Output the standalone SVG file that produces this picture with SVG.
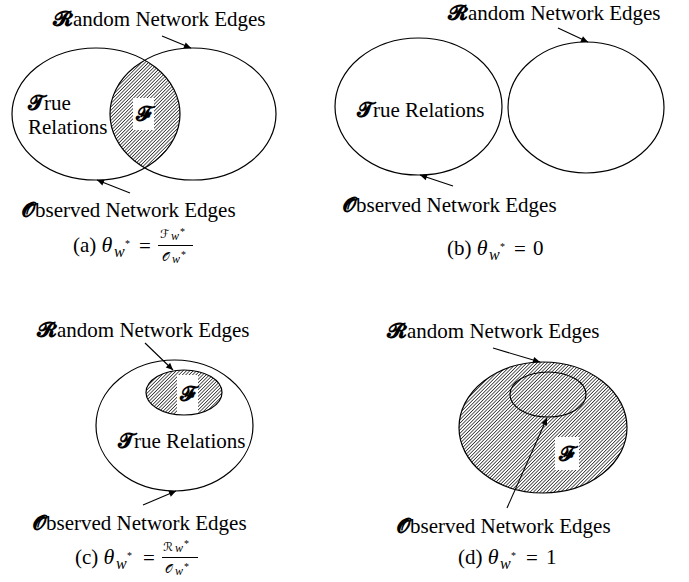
<svg xmlns="http://www.w3.org/2000/svg" width="689" height="582" viewBox="0 0 689 582">
<style>
.t{font-family:"Liberation Serif","DejaVu Serif","Noto Sans",serif;font-size:21px;fill:#000}
.m{font-family:"Liberation Serif","DejaVu Serif",serif;font-style:italic}
.s{font-family:"DejaVu Serif","Noto Sans","DejaVu Sans",serif;font-weight:bold}
.sc{font-family:"DejaVu Serif","DejaVu Sans","Noto Sans",serif}
.st{font-family:"Liberation Serif",serif;font-size:10px}
.e{fill:none;stroke:#000;stroke-width:1.2}
.a{fill:none;stroke:#000;stroke-width:1.1;marker-end:url(#ah)}
.h{fill:url(#hatch);stroke:none}
.wb{fill:#fff}
</style>
<defs>
<pattern id="hatch" patternUnits="userSpaceOnUse" width="2.4" height="10" patternTransform="rotate(45)">
<rect width="2.4" height="10" fill="#fff"/>
<rect width="0.8" height="10" fill="#333"/>
</pattern>
<marker id="ah" viewBox="0 0 10 10" refX="10" refY="5" markerWidth="8" markerHeight="7" orient="auto" markerUnits="userSpaceOnUse">
<path d="M0,0.5 L10,5 L0,9.5 z" fill="#000"/>
</marker>
<clipPath id="clipA"><ellipse cx="96" cy="114" rx="84" ry="66"/></clipPath>
<clipPath id="clipC"><ellipse cx="184" cy="392.5" rx="38" ry="22.5"/></clipPath>
</defs>

<g id="panel-a">
<g id="a-random">
<ellipse class="h" cx="193" cy="114" rx="83" ry="66" clip-path="url(#clipA)"/>
<rect class="wb" x="133" y="98" width="21" height="32"/>
<ellipse class="e" cx="193" cy="114" rx="83" ry="66"/>
<text class="t" x="53" y="26"><tspan class="s">𝓡</tspan>andom Network Edges</text>
</g>
<g id="a-observed">
<ellipse class="e" cx="96" cy="114" rx="84" ry="66"/>
<text class="t" x="22" y="217"><tspan class="s">𝓞</tspan>bserved Network Edges</text>
</g>
<g id="a-true">
<text class="t" x="28" y="110"><tspan class="s">𝓣</tspan>rue</text>
<text class="t" x="28" y="134">Relations</text>
</g>
<g id="a-F"><text class="t s" x="143.5" y="121" text-anchor="middle">𝓕</text></g>
<g id="a-caption">
<text class="t" x="73" y="252">(a) <tspan class="m" font-size="22">θ</tspan></text>
<text class="m" x="114" y="257" font-size="16">w</text>
<text class="st" x="125" y="247">*</text>
<text class="t" x="139" y="253" font-size="22">=</text>
<line x1="158" y1="245.5" x2="193" y2="245.5" stroke="#000" stroke-width="1"/>
<text class="sc" x="160" y="238" font-size="12">ℱ</text>
<text class="m" x="171" y="240" font-size="12">w</text>
<text class="st" x="180" y="235" font-size="8">*</text>
<text class="sc" x="162" y="261" font-size="12">𝒪</text>
<text class="m" x="172" y="263" font-size="12">w</text>
<text class="st" x="181" y="258" font-size="8">*</text>
</g>
</g>

<g id="panel-b">
<g id="b-true">
<ellipse class="e" cx="418.5" cy="106.5" rx="83.5" ry="68.5"/>
<text class="t" x="357" y="117"><tspan class="s">𝓣</tspan>rue Relations</text>
</g>
<g id="b-random">
<ellipse class="e" cx="586" cy="107.5" rx="78" ry="65.5"/>
<text class="t" x="448" y="20"><tspan class="s">𝓡</tspan>andom Network Edges</text>
</g>
<g id="b-observed">
<text class="t" x="343" y="212"><tspan class="s">𝓞</tspan>bserved Network Edges</text>
</g>
<g id="b-caption">
<text class="t" x="447" y="255">(b) <tspan class="m" font-size="22">θ</tspan></text>
<text class="m" x="489" y="260" font-size="16">w</text>
<text class="st" x="500" y="250">*</text>
<text class="t" x="514" y="256" font-size="22">=</text>
<text class="t" x="533" y="255" font-size="22">0</text>
</g>
</g>

<g id="panel-c">
<g id="c-observed">
<ellipse class="e" cx="174.5" cy="425.5" rx="78.5" ry="65.5"/>
<text class="t" x="33" y="530"><tspan class="s">𝓞</tspan>bserved Network Edges</text>
</g>
<g id="c-random">
<ellipse class="h" cx="184" cy="392.5" rx="38" ry="22.5"/>
<rect class="wb" x="177" y="375" width="21" height="41" clip-path="url(#clipC)"/>
<ellipse class="e" cx="184" cy="392.5" rx="38" ry="22.5"/>
<text class="t" x="37" y="337"><tspan class="s">𝓡</tspan>andom Network Edges</text>
</g>
<g id="c-F"><text class="t s" x="187.5" y="401" text-anchor="middle">𝓕</text></g>
<g id="c-true"><text class="t" x="118" y="448"><tspan class="s">𝓣</tspan>rue Relations</text></g>
<g id="c-caption">
<text class="t" x="75" y="564">(c) <tspan class="m" font-size="22">θ</tspan></text>
<text class="m" x="116" y="569" font-size="16">w</text>
<text class="st" x="127" y="559">*</text>
<text class="t" x="143" y="565" font-size="22">=</text>
<line x1="162" y1="557.5" x2="198" y2="557.5" stroke="#000" stroke-width="1"/>
<text class="sc" x="163" y="551" font-size="12">ℛ</text>
<text class="m" x="175" y="552" font-size="12">w</text>
<text class="st" x="184" y="547" font-size="8">*</text>
<text class="sc" x="165" y="573" font-size="12">𝒪</text>
<text class="m" x="175" y="575" font-size="12">w</text>
<text class="st" x="184" y="570" font-size="8">*</text>
</g>
</g>

<g id="panel-d">
<g id="d-random">
<ellipse class="h" cx="543" cy="427.5" rx="84" ry="65.5"/>
<ellipse class="e" cx="543" cy="427.5" rx="84" ry="65.5"/>
<text class="t" x="387" y="338"><tspan class="s">𝓡</tspan>andom Network Edges</text>
</g>
<g id="d-observed">
<ellipse class="e" cx="548" cy="394.5" rx="38" ry="22.5"/>
<text class="t" x="397" y="533"><tspan class="s">𝓞</tspan>bserved Network Edges</text>
</g>
<g id="d-F">
<rect class="wb" x="555" y="437" width="24" height="33"/>
<text class="t s" x="567" y="461" text-anchor="middle">𝓕</text>
</g>
<g id="d-caption">
<text class="t" x="458" y="564">(d) <tspan class="m" font-size="22">θ</tspan></text>
<text class="m" x="500" y="569" font-size="16">w</text>
<text class="st" x="511" y="559">*</text>
<text class="t" x="526" y="565" font-size="22">=</text>
<text class="t" x="546" y="564" font-size="22">1</text>
</g>
</g>

<g id="connectors">
<line class="a" x1="162" y1="36" x2="191" y2="48"/>
<line class="a" x1="130" y1="193" x2="97" y2="180"/>
<line class="a" x1="558" y1="28" x2="588" y2="42"/>
<line class="a" x1="453" y1="186" x2="420" y2="175"/>
<line class="a" x1="145" y1="343" x2="173" y2="370"/>
<line class="a" x1="143" y1="505" x2="176" y2="491"/>
<line class="a" x1="493" y1="348" x2="540" y2="362"/>
<line class="a" x1="507" y1="508" x2="547" y2="418"/>
</g>
</svg>
